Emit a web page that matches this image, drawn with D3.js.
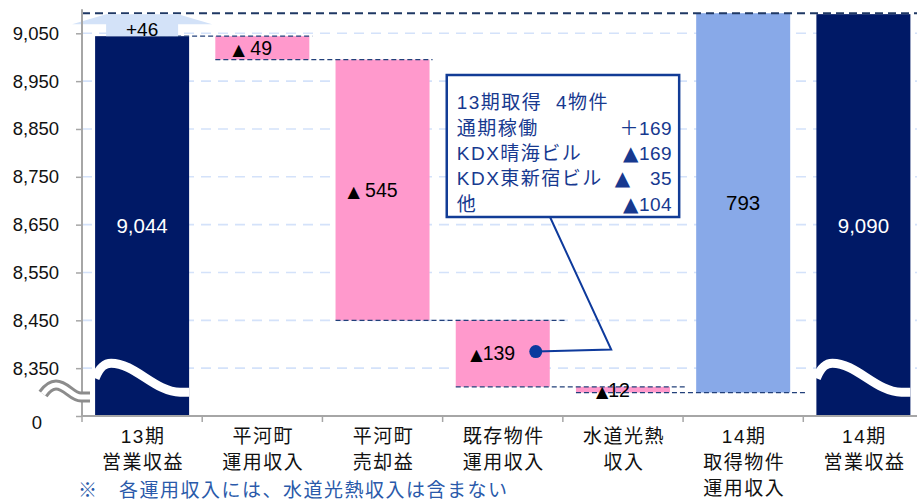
<!DOCTYPE html>
<html>
<head>
<meta charset="utf-8">
<script src="https://cdn.jsdelivr.net/npm/d3@7"></script>
<style>
body { margin: 0; background: #fff; }
svg { display: block; font-family: "Liberation Sans", "Noto Sans CJK JP", sans-serif; }
</style>
</head>
<body>
<svg id="chart" width="917" height="500"></svg>
<script>
// Données du graphique (営業収益, millions de yen)
const categories = ["13期営業収益", "平河町運用収入", "平河町売却益", "既存物件運用収入", "水道光熱収入", "14期取得物件運用収入", "14期営業収益"];
const categoryLines = [["13期", "営業収益"], ["平河町", "運用収入"], ["平河町", "売却益"], ["既存物件", "運用収入"], ["水道光熱", "収入"], ["14期", "取得物件", "運用収入"], ["14期", "営業収益"]];
const barKinds = ["total", "down", "down", "down", "down", "up", "total"];
const barValues = [9044, 49, 545, 139, 12, 793, 9090];
const barLabels = ["9,044", "▲ 49", "▲ 545", "▲139", "▲12", "793", "9,090"];
const yTicks = [8250, 8350, 8450, 8550, 8650, 8750, 8850, 8950, 9050];
const yTickLabels = ["0", "8,350", "8,450", "8,550", "8,650", "8,750", "8,850", "8,950", "9,050"];
const axisFloor = 8250; // affiché "0" (axe coupé)
const growthLabel = "+46";
const noteTitle = "13期取得  4物件";
const noteNames = ["通期稼働", "KDX晴海ビル", "KDX東新宿ビル", "他"];
const noteValues = ["＋169", "▲169", "▲　35", "▲104"];
const footnote = "※　各運用収入には、水道光熱収入は含まない";

const navy = "#001966", pink = "#FF99CC", lightBlue = "#88A9E8";
const lineNavy = "#22407A", noteBlue = "#17398F";

const svg = d3.select("#chart");

// Échelles
const x = d3.scaleBand().domain(categories).range([82, 923.5]).paddingInner(0.218).paddingOuter(0.109);
const y = d3.scaleLinear().domain([axisFloor, 9050]).range([416, 33.3]);
const bw = x.bandwidth();
const step = x.step();

// Calcul des paliers de la cascade
let level = 0;
const bars = categories.map((c, i) => {
    let lo, hi;
    if (barKinds[i] === "total") { lo = axisFloor; hi = barValues[i]; level = hi; }
    else if (barKinds[i] === "down") { hi = level; lo = level - barValues[i]; level = lo; }
    else { lo = level; hi = level + barValues[i]; level = hi; }
    return { c, i, kind: barKinds[i], lo, hi, end: level, label: barLabels[i] };
});

// Grille
svg.append("g").selectAll("line")
    .data(yTicks.slice(1))
    .join("line")
    .attr("x1", 82).attr("x2", 917)
    .attr("y1", d => y(d)).attr("y2", d => y(d))
    .attr("stroke", "#D4E2FA").attr("stroke-width", 1.6)
    .attr("stroke-dasharray", "10,7");

// Barres
const colorOf = k => k === "total" ? navy : (k === "down" ? pink : lightBlue);
svg.append("g").selectAll("rect")
    .data(bars)
    .join("rect")
    .attr("x", d => x(d.c))
    .attr("y", d => y(d.hi))
    .attr("width", bw)
    .attr("height", d => Math.max(y(d.lo) - y(d.hi), 1))
    .attr("fill", d => colorOf(d.kind));

// Vague blanche sur les barres totales (coupure)
const yB = y(8350);
svg.append("g").selectAll("path")
    .data(bars.filter(d => d.kind === "total"))
    .join("path")
    .attr("d", d => {
        const x0 = x(d.c);
        return `M${x0},${yB + 10} C${x0 + 5},${yB - 2} ${x0 + 10},${yB - 5} ${x0 + 16},${yB - 5} ` +
               `C${x0 + 40},${yB - 5} ${x0 + 60},${yB + 24} ${x0 + 85},${yB + 24} L${x0 + bw},${yB + 24}`;
    })
    .attr("fill", "none").attr("stroke", "#fff").attr("stroke-width", 9);

// Lignes de liaison
const overhang = [3, 3, 15, 15, 17];
svg.append("g").selectAll("line")
    .data(bars.slice(0, 5))
    .join("line")
    .attr("x1", d => d.i === 0 ? x(d.c) + bw / 2 + 18 : x(d.c))
    .attr("x2", d => x(categories[d.i + 1]) + bw + overhang[d.i])
    .attr("y1", d => y(d.end)).attr("y2", d => y(d.end))
    .attr("stroke", lineNavy).attr("stroke-width", 1.3)
    .attr("stroke-dasharray", "5,3");

// Ligne du haut (niveau final)
const topLevel = bars[5].hi;
svg.append("line")
    .attr("x1", 82).attr("x2", 917)
    .attr("y1", y(topLevel)).attr("y2", y(topLevel))
    .attr("stroke", "#1F3864").attr("stroke-width", 2)
    .attr("stroke-dasharray", "8,5");

// Flèche de hausse (+46)
const cx0 = x(categories[0]) + bw / 2;
const yBase = y(barValues[0]), yTop = y(barValues[6]), yHead = yBase - 12;
svg.append("polygon")
    .attr("points", [
        [cx0 - 36, yBase], [cx0 - 36, yHead], [cx0 - 70, yHead], [cx0 - 36, yTop],
        [cx0 + 36, yTop], [cx0 + 70, yHead], [cx0 + 36, yHead], [cx0 + 36, yBase]
    ].map(p => p.join(",")).join(" "))
    .attr("fill", "#D3E2F8");
svg.append("text")
    .attr("x", cx0).attr("y", yBase)
    .attr("text-anchor", "middle")
    .attr("font-size", 19).attr("fill", "#000")
    .text(growthLabel);

// Étiquettes des barres
const totalMid = (y(barValues[0]) + y(axisFloor)) / 2;
const lab = svg.append("g").selectAll("text")
    .data(bars)
    .join("text")
    .attr("x", d => x(d.c) + bw / 2 + (d.kind === "down" ? -10 : 0))
    .attr("y", d => d.kind === "total" ? totalMid : (y(d.lo) + y(d.hi)) / 2)
    .attr("dy", "0.35em")
    .attr("text-anchor", "middle")
    .attr("font-size", d => d.kind === "down" ? 19.5 : 20.5)
    .attr("fill", d => d.kind === "total" ? "#fff" : "#000");
lab.each(function(d) {
    const t = d3.select(this);
    if (d.label.startsWith("▲")) {
        t.append("tspan").attr("font-size", 16).attr("font-family", "DejaVu Sans").text("▲");
        t.append("tspan").text(d.label.slice(1));
    } else {
        t.text(d.label);
    }
});

// Axe Y
const yAxis = d3.axisLeft(y)
    .tickValues(yTicks)
    .tickFormat((d, i) => yTickLabels[i])
    .tickSize(6).tickPadding(17);
const gy = svg.append("g").attr("transform", "translate(82,0)").call(yAxis);
gy.select(".domain").attr("stroke", "#A6A6A6").attr("stroke-width", 2).attr("d", `M0,${y(9050) - 24}V${y(axisFloor)}`);
gy.selectAll(".tick line").attr("stroke", "#A6A6A6").attr("stroke-width", 1.5);
gy.selectAll(".tick text").attr("font-size", 18.5).attr("fill", "#111")
    .attr("font-family", "Liberation Sans");
gy.selectAll(".tick").filter(d => d === axisFloor).select("text").attr("x", -40).attr("y", 7);

// Axe X
svg.append("line")
    .attr("x1", 82).attr("x2", 917)
    .attr("y1", y(axisFloor)).attr("y2", y(axisFloor))
    .attr("stroke", "#A6A6A6").attr("stroke-width", 2);
svg.append("g").selectAll("line")
    .data(categories)
    .join("line")
    .attr("x1", d => x(d) - (step - bw) / 2).attr("x2", d => x(d) - (step - bw) / 2)
    .attr("y1", y(axisFloor)).attr("y2", y(axisFloor) + 6)
    .attr("stroke", "#A6A6A6").attr("stroke-width", 1.5);

const catText = svg.append("g").selectAll("text")
    .data(categories)
    .join("text")
    .attr("text-anchor", "middle")
    .attr("font-size", 19).attr("letter-spacing", 1.5)
    .attr("fill", "#111");
catText.each(function(d, i) {
    d3.select(this).selectAll("tspan")
        .data(categoryLines[i])
        .join("tspan")
        .attr("x", x(d) + bw / 2 + 1)
        .attr("y", (s, k) => 443 + k * 26)
        .text(s => s);
});

// Symbole de coupure sur l'axe Y
const breakPath = "M43,394 C48,387 52,385 56,385 C66,385 72,397 81,397 L90,397";
svg.append("path").attr("d", breakPath).attr("fill", "none").attr("stroke", "#8C8C8C").attr("stroke-width", 11);
svg.append("path").attr("d", breakPath).attr("fill", "none").attr("stroke", "#fff").attr("stroke-width", 5);

// Encadré d'annotation
const dot = [x(categories[3]) + bw - 14, (y(bars[3].lo) + y(bars[3].hi)) / 2 - 2];
const elbow = [x(categories[4]) + bw * 0.375, dot[1] - 2];
const boxL = x(categories[3]) - 9, boxR = x(categories[5]) - 17, boxT = 75, boxB = 217;
svg.append("polyline")
    .attr("points", [[550, boxB], elbow, dot].map(p => p.join(",")).join(" "))
    .attr("fill", "none").attr("stroke", "#0E3A9C").attr("stroke-width", 2);
svg.append("circle").attr("cx", dot[0]).attr("cy", dot[1]).attr("r", 6.5).attr("fill", "#0A3A9E");
svg.append("rect")
    .attr("x", boxL).attr("y", boxT).attr("width", boxR - boxL).attr("height", boxB - boxT)
    .attr("fill", "#fff").attr("stroke", "#123C96").attr("stroke-width", 2.5);

const note = svg.append("g").attr("font-size", 19).attr("fill", noteBlue).attr("letter-spacing", 1.5);
note.append("text").attr("x", boxL + 10).attr("y", 109).text(noteTitle.replace(/ /g, "\u00a0"));
note.selectAll(".nn").data(noteNames).join("text").attr("class", "nn")
    .attr("x", boxL + 10).attr("y", (d, i) => 135 + i * 25.2).text(d => d);
const nv = note.selectAll(".nv").data(noteValues).join("text").attr("class", "nv")
    .attr("x", boxR - 7).attr("y", (d, i) => 135 + i * 25.2)
    .attr("text-anchor", "end").attr("letter-spacing", 0.5);
nv.each(function(d) {
    const t = d3.select(this);
    if (d.startsWith("▲")) {
        t.append("tspan").attr("font-size", 20).attr("font-family", "DejaVu Sans").text("▲");
        t.append("tspan").text(d.slice(1));
    } else {
        t.text(d);
    }
});

// Note de bas de page
svg.append("text")
    .attr("x", 78).attr("y", 497)
    .attr("font-size", 19).attr("letter-spacing", 1.5)
    .attr("fill", "#2A5AAA")
    .text(footnote);
</script>
</body>
</html>
